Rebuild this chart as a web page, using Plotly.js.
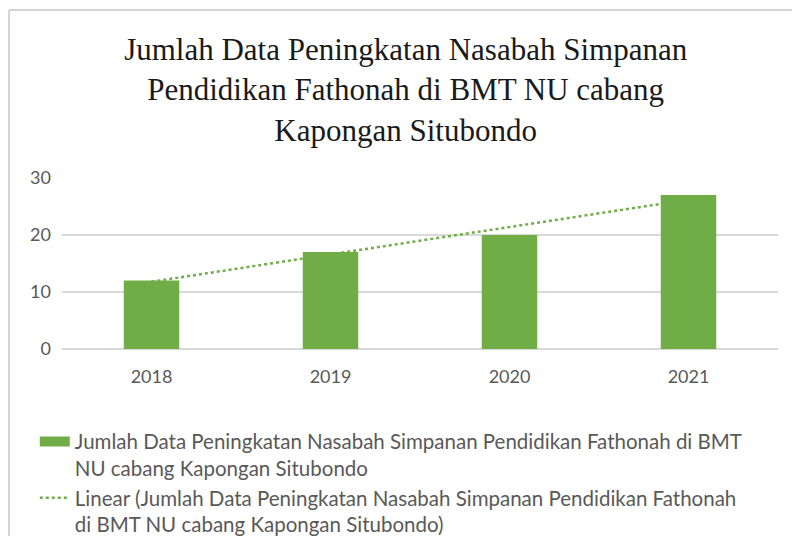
<!DOCTYPE html>
<html>
<head>
<meta charset="utf-8">
<script src="https://cdn.plot.ly/plotly-3.0.1.min.js"></script>
<style>body{margin:0;padding:0;background:#fff;} #chart{width:792px;height:536px;}</style>
</head>
<body>
<div id="chart"></div>
<script>
const years = ["2018", "2019", "2020", "2021"];
const values = [12, 17, 20, 27];
const trendValues = [11.8, 16.6, 21.4, 26.2];
const seriesName = "Jumlah Data Peningkatan Nasabah Simpanan Pendidikan Fathonah di BMT<br>NU cabang Kapongan Situbondo";
const trendName = "Linear (Jumlah Data Peningkatan Nasabah Simpanan Pendidikan Fathonah<br>di BMT NU cabang Kapongan Situbondo)";
const titleText = "Jumlah Data Peningkatan Nasabah Simpanan<br>Pendidikan Fathonah di BMT NU cabang<br>Kapongan Situbondo";
const yTicks = [0, 10, 20, 30];

const green = "#70AD47";
const tickFont = {family: "Lato, 'Open Sans', sans-serif", size: 18, color: "#595959"};

const data = [
  {
    type: "scatter", mode: "lines", x: years, y: trendValues,
    name: trendName, xaxis: "x", yaxis: "y",
    line: {color: green, width: 2.5, dash: "dot"},
    hoverinfo: "skip", showlegend: false
  },
  {
    type: "bar", x: years, y: values, name: seriesName,
    xaxis: "x", yaxis: "y2",
    marker: {color: green}, showlegend: false
  },
  // legend entries
  {
    type: "scatter", mode: "lines", x: [null], y: [null], name: seriesName,
    line: {color: green, width: 10}, showlegend: true, hoverinfo: "skip"
  },
  {
    type: "scatter", mode: "lines", x: [null], y: [null], name: trendName,
    line: {color: green, width: 2.5, dash: "dot"}, showlegend: true, hoverinfo: "skip"
  }
];

const layout = {
  width: 792, height: 536,
  paper_bgcolor: "#ffffff", plot_bgcolor: "#ffffff",
  margin: {l: 62, r: 14, t: 178, b: 187, autoexpand: false},
  title: {
    text: titleText,
    font: {family: "'Liberation Serif', 'Times New Roman', serif", size: 31, color: "#1a1a1a"},
    x: 0.48, xanchor: "center", xref: "paper",
    y: 1 - 60/536, yanchor: "top", yref: "container"
  },
  bargap: 0.69,
  xaxis: {
    type: "category", tickfont: tickFont, showgrid: false, zeroline: false,
    showline: false, ticks: "", ticklabelstandoff: 15, fixedrange: true, automargin: false
  },
  yaxis: {
    range: [0, 30], tickvals: yTicks, tickfont: tickFont,
    showgrid: true, gridcolor: "#d9d9d9", gridwidth: 1.3,
    zeroline: true, zerolinecolor: "#d9d9d9", zerolinewidth: 1.3,
    showline: false, ticks: "", ticklabelstandoff: 10, fixedrange: true, automargin: false
  },
  yaxis2: {
    range: [0, 30], overlaying: "y", visible: false, showgrid: false, zeroline: false, fixedrange: true
  },
  showlegend: true,
  legend: {
    x: -0.038, xanchor: "left", y: -0.425, yanchor: "top",
    font: {family: "Lato, 'Open Sans', sans-serif", size: 20.5, color: "#595959"},
    bgcolor: "rgba(0,0,0,0)", itemwidth: 30, tracegroupgap: 0, valign: "top"
  },
  shapes: [
    {type: "line", xref: "paper", yref: "paper", x0: -0.074, x1: -0.074, y0: -1.2, y1: 1.982,
     line: {color: "#d4d4d4", width: 2}},
    {type: "line", xref: "paper", yref: "paper", x0: -0.074, x1: 1.03, y0: 1.982, y1: 1.982,
     line: {color: "#d4d4d4", width: 2}}
  ]
};

Plotly.newPlot("chart", data, layout, {displayModeBar: false, staticPlot: true});
</script>
</body>
</html>
